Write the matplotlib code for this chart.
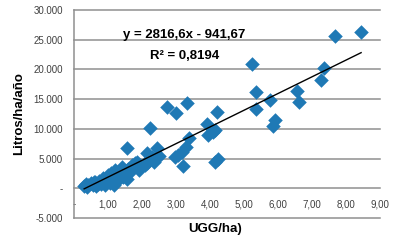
import numpy as np
import matplotlib.pyplot as plt

# UGG/ha vs Litros/ha/año
ugg = [0.30, 0.35, 0.42, 0.50, 0.55, 0.62, 0.70, 0.75, 0.80, 0.88, 0.95, 1.00,
       1.05, 1.10, 1.15, 1.20, 1.25, 1.30, 1.35, 1.40, 1.45, 1.50, 1.60, 1.70,
       1.80, 0.38, 0.58, 0.66, 0.85, 0.92, 1.02, 1.12, 1.18, 1.28, 1.42, 1.55,
       1.65, 1.90,
       1.56, 1.72, 1.85, 2.10, 2.15, 2.15, 2.20, 2.30, 2.35, 2.44, 2.50,
       2.24, 2.73, 3.00, 3.32, 2.97, 3.05, 3.18, 3.30, 3.38, 3.20, 3.90, 3.95,
       4.10, 4.15, 4.20, 4.24, 4.15, 5.24, 5.35, 5.35, 5.76, 5.91, 5.85, 6.56,
       6.62, 7.27, 7.35, 7.68, 8.44]
litros = [300, 700, 500, 900, 600, 1100, 800, 1300, 700, 1200, 1500, 2200,
          900, 2500, 1400, 3000, 1800, 2300, 2900, 3500, 1900, 2600, 3300, 3800,
          4300, 200, 1000, 400, 1700, 600, 1300, 1800, 600, 1200, 2200, 1500,
          2700, 3000,
          6700, 3900, 4400, 3900, 4200, 6000, 5000, 5300, 4500, 6700, 5500,
          10200, 13600, 12600, 14300, 5300, 5600, 6100, 6900, 8400, 3700, 10900, 9000,
          9500, 9800, 12900, 4900, 4400, 21000, 16200, 13300, 14800, 11500, 10500, 16300,
          14500, 18200, 20200, 25600, 26300]

slope, intercept = 2816.6, -941.67
r2 = 0.8194

y_ticks = [-5000, 0, 5000, 10000, 15000, 20000, 25000, 30000]
y_labels = ["-5.000", "-", "5.000", "10.000", "15.000", "20.000", "25.000", "30.000"]
x_ticks = list(range(10))
x_labels = ["-"] + [f"{i},00" for i in range(1, 10)]

plt.rcParams['font.family'] = ['Liberation Sans', 'DejaVu Sans']

fig = plt.figure(figsize=(4.04, 2.46), dpi=100)
ax = fig.add_axes([0.183, 0.114, 0.758, 0.845])

grid_c = '#8f8f8f'
for yv in y_ticks:
    ax.axhline(yv, color=grid_c, lw=1.1, zorder=1, clip_on=False)

ax.scatter(ugg, litros, marker='D', s=55, color='#1F79B5', zorder=3, linewidths=0)

xs = np.array([min(ugg), max(ugg)])
ax.plot(xs, slope * xs + intercept, color='black', lw=1.0, zorder=4)

ax.set_xlim(0, 9)
ax.set_ylim(-5000, 30000)

for s in ['top', 'right']:
    ax.spines[s].set_visible(False)
ax.spines['left'].set_color(grid_c)
ax.spines['left'].set_linewidth(1.1)
ax.spines['bottom'].set_position(('data', 0))
ax.spines['bottom'].set_visible(False)

ax.set_yticks(y_ticks)
ax.set_yticklabels(y_labels)
ax.set_xticks(x_ticks)
ax.set_xticklabels(x_labels)
ax.tick_params(axis='both', length=0, labelsize=7, colors='#404040')
ax.tick_params(axis='y', pad=8)
ax.tick_params(axis='x', pad=8)

ax.set_ylabel("Litros/ha/año", fontsize=9.5, fontweight='bold', labelpad=6)
fig.text(0.532, 0.07, "UGG/ha)", fontsize=9.5, fontweight='bold', ha='center', va='center')

ax.text(0.36, 0.88, f"y = {str(slope).replace('.', ',')}x - {str(-intercept).replace('.', ',')}",
        transform=ax.transAxes, ha='center', va='center', fontsize=9.5, fontweight='bold')
ax.text(0.36, 0.78, f"R² = {str(r2).replace('.', ',')}",
        transform=ax.transAxes, ha='center', va='center', fontsize=9.5, fontweight='bold')

fig.savefig('out.png', dpi=100)
